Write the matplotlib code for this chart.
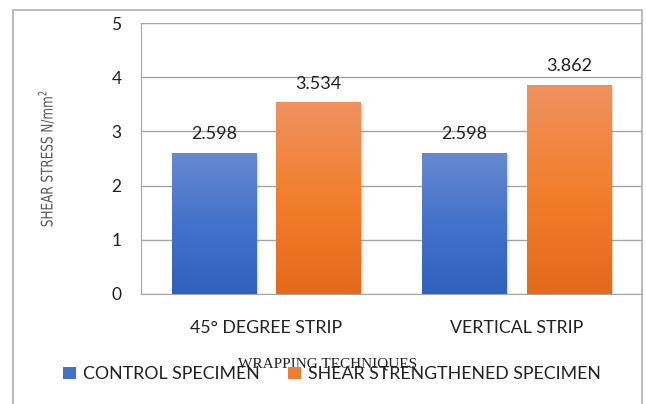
import numpy as np
import matplotlib.pyplot as plt
from matplotlib.patches import Rectangle, PathPatch
from matplotlib.textpath import TextPath
from matplotlib.font_manager import FontProperties
from matplotlib.transforms import Affine2D, IdentityTransform
from matplotlib.colors import LinearSegmentedColormap

# Shear stress per wrapping technique
techniques = ["45° DEGREE STRIP", "VERTICAL STRIP"]
control = [2.598, 2.598]
strengthened = [3.534, 3.862]
series_names = ["CONTROL SPECIMEN", "SHEAR STRENGTHENED SPECIMEN"]
yticks = [0, 1, 2, 3, 4, 5]

plt.rcParams['font.family'] = ['Lato', 'DejaVu Sans']

fig = plt.figure(figsize=(6.46, 4.04), dpi=100)
ax = fig.add_axes([141/646, 110/404, 501/646, 271/404])

# outer chart frame
fig.patches.append(Rectangle((13/646, -0.05), 629/646, 1.05 - 10/404, transform=fig.transFigure,
                             fill=False, edgecolor='#b0b0b0', linewidth=1.2, zorder=0))

x = np.arange(len(techniques))
w = 0.338
off = 0.209

blue_cmap = LinearSegmentedColormap.from_list("b", ["#2e61bd", "#4372cb", "#6889d0"])
orange_cmap = LinearSegmentedColormap.from_list("o", ["#e4691a", "#f27f2c", "#ef9160"])

def gradient_bars(xs, vals, cmap, label, color):
    bars = ax.bar(xs, vals, w, color=color, label=label, zorder=2, linewidth=0)
    grad = np.linspace(0, 1, 256).reshape(-1, 1)
    for b, v in zip(bars, vals):
        x0, y0 = b.get_x(), b.get_y()
        bw, bh = b.get_width(), b.get_height()
        # soft drop shadow
        for k, a in [(0.006, 0.08), (0.012, 0.05)]:
            ax.add_patch(Rectangle((x0 + k, y0), bw, bh - 0.02, color='#000000',
                                   alpha=a, zorder=1.5, linewidth=0))
        im = ax.imshow(grad, cmap=cmap, origin='lower', aspect='auto',
                       extent=(x0, x0 + bw, y0, y0 + bh), zorder=2.5)
        im.set_clip_path(b)
        ax.text(x0 + bw / 2, y0 + bh + 0.2, f"{v:.3f}",
                ha='center', va='bottom', fontsize=13, color='#222222', zorder=3)
    return bars

gradient_bars(x - off, control, blue_cmap, series_names[0], "#4472c4")
gradient_bars(x + off, strengthened, orange_cmap, series_names[1], "#ed7d31")

ax.set_xlim(-0.5, 1.5)
ax.set_ylim(0, 5)
ax.set_yticks(yticks)
ax.set_xticks(x)
ax.set_xticklabels(techniques, fontsize=12.8, color='#222222')
ax.tick_params(axis='y', labelsize=12.5, colors='#222222', length=0, pad=14)
ax.tick_params(axis='x', length=0, pad=19)
ax.yaxis.grid(True, color='#a6a6a6', linewidth=1)
ax.set_axisbelow(True)
for s in ['top', 'right']:
    ax.spines[s].set_visible(False)
ax.spines['left'].set_color('#a6a6a6')
ax.spines['bottom'].set_color('#a6a6a6')

# condensed, rotated y-axis title drawn as a text path (pixel coordinates)
tp = TextPath((0, 0), "SHEAR STRESS N/mm$^2$", size=16,
              prop=FontProperties(family='DejaVu Sans'))
bb = tp.get_extents()
tr = (Affine2D().translate(-(bb.x0 + bb.x1) / 2, -(bb.y0 + bb.y1) / 2)
      .scale(0.75, 1.0).rotate_deg(90).translate(46, 404 - 159))
fig.patches.append(PathPatch(tp, transform=tr + IdentityTransform(), facecolor='#5a5a5a',
                             edgecolor='none'))

fig.text(328/646, 1 - 364/404, "WRAPPING TECHNIQUES", ha='center', va='center',
         fontsize=11, color='#222222', family=['Liberation Serif', 'DejaVu Serif'])

fig.legend(loc='center', bbox_to_anchor=(332/646, 1 - 374/404), ncol=2, frameon=False,
           fontsize=12.8, handlelength=0.7, handleheight=0.7, handletextpad=0.4,
           columnspacing=1.6, labelcolor='#222222')

fig.savefig("out.png", dpi=100)
